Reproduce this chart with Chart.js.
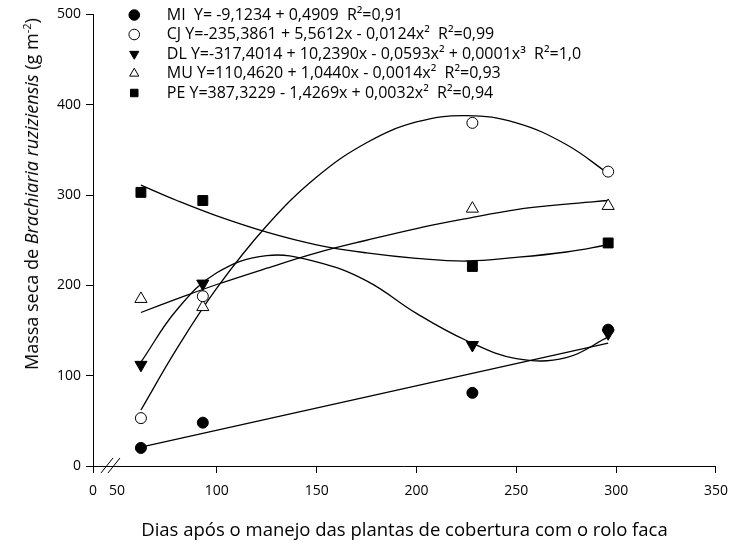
<!DOCTYPE html>
<html>
<head>
<meta charset="utf-8">
<script src="https://cdn.jsdelivr.net/npm/chart.js@4/dist/chart.umd.min.js"></script>
<style>
  html, body { margin: 0; padding: 0; background: #fff; }
  #wrap { position: relative; width: 738px; height: 546px; }
  #ytitle {
    position: absolute; left: 31px; top: 194px;
    transform: translate(-50%, -50%) rotate(-90deg);
    white-space: nowrap; font-family: 'Open Sans', sans-serif;
    font-size: 18px; color: #000;
  }
  #ytitle sup { font-size: 11px; }
</style>
</head>
<body>
<div id="wrap">
  <canvas id="c" width="738" height="546"></canvas>
  <div id="ytitle">Massa seca de <i>Brachiaria ruziziensis</i> (g m<sup>-2</sup>)</div>
</div>
<script>
// ---- observed data (days after cover-crop management) ----
const days = [62, 93, 228, 296];
const MI = [20, 48, 81, 151];
const CJ = [53, 188, 380, 326];
const DL = [112, 202, 134, 147];
const MU = [185, 176, 285, 288];
const PE = [303, 294, 221, 247];

// ---- fitted curves ----
const fitDaysMI = [62, 296];
const fitMI = [21, 136];
const fitDays = [62, 80, 100, 125, 150, 175, 200, 225, 250, 275, 296];
const fitCJ = [62, 130, 197, 266, 320, 358, 381, 388, 380, 356, 324];
const fitDL = [115, 173, 214, 233, 226, 205, 169, 139, 119, 120, 143];
const fitMU = [170, 185, 201, 219, 236, 250, 263, 274, 284, 290, 294];
const fitPE = [311, 294, 277, 259, 245, 236, 230, 227, 231, 237, 245];

// ---- labels ----
const seriesNames = ['MI', 'CJ', 'DL', 'MU', 'PE'];
const equations = [
  ' Y= -9,1234 + 0,4909  R\u00B2=0,91',
  'Y=-235,3861 + 5,5612x - 0,0124x\u00B2  R\u00B2=0,99',
  'Y=-317,4014 + 10,2390x - 0,0593x\u00B2 + 0,0001x\u00B3  R\u00B2=1,0',
  'Y=110,4620 + 1,0440x - 0,0014x\u00B2  R\u00B2=0,93',
  'Y=387,3229 - 1,4269x + 0,0032x\u00B2  R\u00B2=0,94'
];
const xTickValues = [50, 100, 150, 200, 250, 300, 350];
const xAxisStart = 38;      // axis start shown as "0" (broken axis)
const xStartLabel = '0';
const yTickStep = 100;
const xTitle = 'Dias após o manejo das plantas de cobertura com o rolo faca';

const toXY = (xs, ys) => xs.map((x, i) => ({ x: x, y: ys[i] }));

const pointSeries = [MI, CJ, DL, MU, PE];
const fitSeries = [[fitDaysMI, fitMI], [fitDays, fitCJ], [fitDays, fitDL], [fitDays, fitMU], [fitDays, fitPE]];
const styles = [
  { pointStyle: 'circle', bg: '#000', r: 5.5, rot: 0 },
  { pointStyle: 'circle', bg: '#fff', r: 5.5, rot: 0 },
  { pointStyle: 'triangle', bg: '#000', r: 7, rot: 180 },
  { pointStyle: 'triangle', bg: '#fff', r: 7, rot: 0 },
  { pointStyle: 'rect', bg: '#000', r: 7, rot: 0 }
];

const datasets = [];
pointSeries.forEach((vals, i) => {
  datasets.push({
    label: '     ' + seriesNames[i] + ' ' + equations[i],
    data: toXY(days, vals),
    showLine: false,
    pointStyle: styles[i].pointStyle,
    rotation: styles[i].rot,
    pointRadius: styles[i].r,
    backgroundColor: styles[i].bg,
    borderColor: '#000',
    borderWidth: 1,
    order: 1
  });
});
fitSeries.forEach((f, i) => {
  datasets.push({
    label: 'fit ' + seriesNames[i],
    data: toXY(f[0], f[1]),
    showLine: true,
    pointRadius: 0,
    borderColor: '#000',
    borderWidth: 1.3,
    tension: 0.4,
    fill: false,
    order: 2
  });
});

const axisBreak = {
  id: 'axisBreak',
  afterDraw(chart) {
    const xs = chart.scales.x;
    const ctx = chart.ctx;
    const y = chart.chartArea.bottom;
    const cx = xs.getPixelForValue(47);
    ctx.save();
    ctx.strokeStyle = '#000';
    ctx.lineWidth = 1;
    [-4, 3].forEach(d => {
      ctx.beginPath();
      ctx.moveTo(cx + d - 6, y + 7);
      ctx.lineTo(cx + d + 6, y - 8);
      ctx.stroke();
    });
    ctx.restore();
  }
};

const legendPlace = {
  id: 'legendPlace',
  afterLayout(chart) {
    const l = chart.legend;
    if (!l) return;
    l.left = 127; l.top = 3.5;
    l.right = l.left + l.width; l.bottom = l.top + l.height;
  }
};

Chart.defaults.font.family = "'Open Sans', sans-serif";
Chart.defaults.color = '#000';

new Chart(document.getElementById('c'), {
  type: 'scatter',
  data: { datasets: datasets },
  plugins: [axisBreak, legendPlace],
  options: {
    responsive: false,
    animation: false,
    layout: { padding: { left: 0, right: 17, top: 14.5, bottom: 4 } },
    plugins: {
      legend: {
        position: 'chartArea',
        align: 'start',
        labels: {
          usePointStyle: true,
          boxWidth: 7.5, boxHeight: 7.5,
          padding: 3.5,
          color: '#000',
          font: { size: 16 },
          filter: (item) => item.datasetIndex < 5
        }
      },
      tooltip: { enabled: false }
    },
    scales: {
      x: {
        type: 'linear',
        min: xAxisStart, max: 350,
        afterBuildTicks: (s) => { s.ticks = [xAxisStart].concat(xTickValues).map(v => ({ value: v })); },
        afterFit: (s) => { s.height = 76; },
        ticks: {
          autoSkip: false, maxRotation: 0, padding: 10,
          color: '#000', font: { size: 14 },
          callback: (v) => (v === xAxisStart ? xStartLabel : String(v))
        },
        grid: {
          drawOnChartArea: false, tickLength: 7,
          color: '#000',
          tickColor: (ctx) => (ctx.tick && ctx.tick.value === 50 ? 'rgba(0,0,0,0)' : '#000')
        },
        border: { display: true, color: '#000', width: 1 },
        title: {
          display: true, text: xTitle, color: '#000',
          font: { size: 18.5 }, padding: { top: 0, bottom: 0 }
        }
      },
      y: {
        min: 0, max: 500,
        afterFit: (s) => { s.width = 93; },
        ticks: { stepSize: yTickStep, padding: 5, color: '#000', font: { size: 14 } },
        grid: { drawOnChartArea: false, tickLength: 7, color: '#000' },
        border: { display: true, color: '#000', width: 1 }
      }
    }
  }
});
</script>
</body>
</html>
